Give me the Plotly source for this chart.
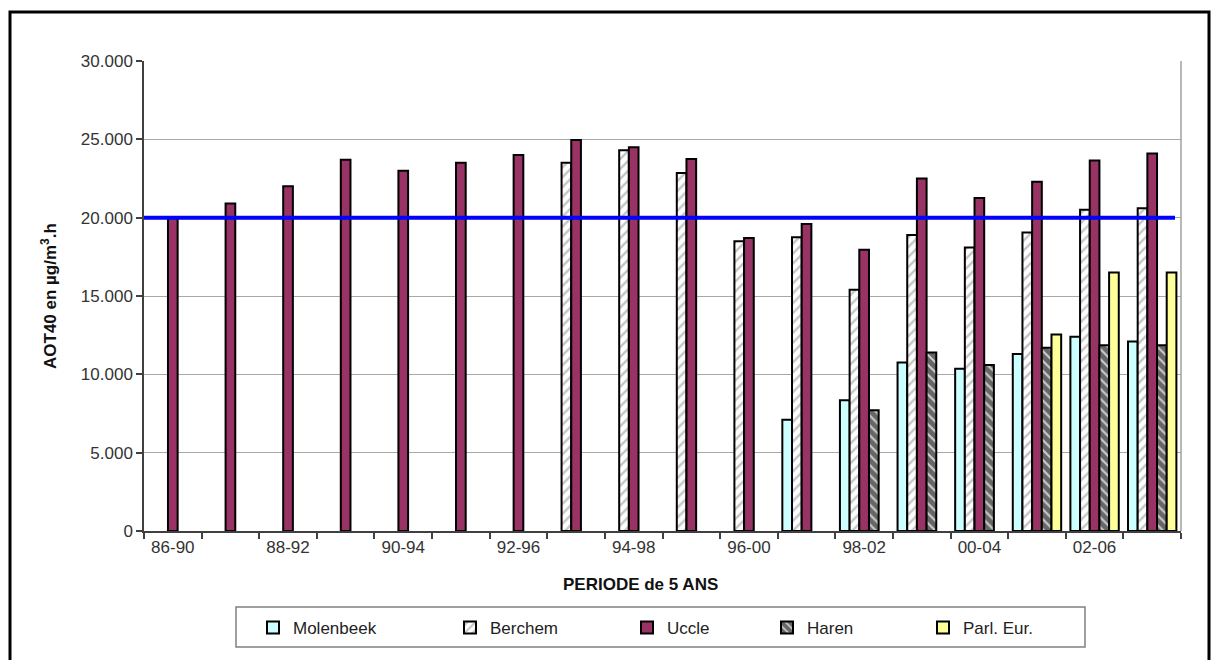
import plotly.graph_objects as go

# Five-year periods on the category axis
PERIODS = ["86-90", "87-91", "88-92", "89-93", "90-94", "91-95", "92-96", "93-97", "94-98",
           "95-99", "96-00", "97-01", "98-02", "99-03", "00-04", "01-05", "02-06", "03-07"]

# AOT40 values per station (µg/m³.h)
MOLENBEEK = [None, None, None, None, None, None, None, None, None, None, None,
             7100, 8350, 10750, 10350, 11300, 12400, 12100]
BERCHEM = [None, None, None, None, None, None, None,
           23500, 24300, 22850, 18500, 18750, 15400, 18900, 18100, 19050, 20500, 20600]
UCCLE = [20050, 20900, 22000, 23700, 23000, 23500, 24000, 24950, 24500, 23750,
         18700, 19600, 17950, 22500, 21250, 22300, 23650, 24100]
HAREN = [None, None, None, None, None, None, None, None, None, None, None, None,
         7700, 11400, 10600, 11700, 11850, 11850]
PARL_EUR = [None, None, None, None, None, None, None, None, None, None, None, None,
            None, None, None, 12550, 16500, 16500]

THRESHOLD = 20000
Y_TICKS = [0, 5000, 10000, 15000, 20000, 25000, 30000]

# Figure geometry (pixels)
W, H = 1211, 660
L, R, T, B = 144, 30, 61, 129
PW, PH = W - L - R, H - T - B


def px_x(x):
    return (x - L) / PW


def px_y(y):
    return (H - B - y) / PH


positions = list(range(len(PERIODS)))
outline = dict(color="black", width=2)
font_main = "Liberation Sans, Arial, sans-serif"

# Each station gets its own legend entry placed along the legend box
legend_ids = ["legend", "legend2", "legend3", "legend4", "legend5"]
legend_text_left = [293, 490, 667, 807, 963]

fig = go.Figure()
fig.add_bar(name="Molenbeek", x=positions, y=MOLENBEEK, legend=legend_ids[0],
            marker=dict(color="#CCFFFF", line=outline))
fig.add_bar(name="Berchem", x=positions, y=BERCHEM, legend=legend_ids[1],
            marker=dict(color="white", line=outline,
                        pattern=dict(shape="/", fgcolor="#8C8C8C", bgcolor="white",
                                     size=7, solidity=0.35)))
fig.add_bar(name="Uccle", x=positions, y=UCCLE, legend=legend_ids[2],
            marker=dict(color="#993366", line=outline))
fig.add_bar(name="Haren", x=positions, y=HAREN, legend=legend_ids[3],
            marker=dict(color="#C0C0C0", line=outline,
                        pattern=dict(shape="\\", fgcolor="black", bgcolor="#CCCCCC",
                                     size=7, solidity=0.7)))
fig.add_bar(name="Parl. Eur.", x=positions, y=PARL_EUR, legend=legend_ids[4],
            marker=dict(color="#FFFF99", line=outline))

legend_layout = {}
for lid, tx in zip(legend_ids, legend_text_left):
    legend_layout[lid] = dict(orientation="h", x=px_x(tx - 40), xanchor="left",
                              y=px_y(628), yanchor="middle",
                              bgcolor="rgba(0,0,0,0)", borderwidth=0,
                              font=dict(size=17, color="#222222"))

fig.update_layout(
    width=W, height=H,
    margin=dict(l=L, r=R, t=T, b=B, pad=0),
    paper_bgcolor="white", plot_bgcolor="white",
    barmode="group", bargap=0.16, bargroupgap=0,
    separators=",.",
    font=dict(family=font_main, size=17, color="#333333"),
    showlegend=True,
    xaxis=dict(range=[-0.5, len(PERIODS) - 0.5],
               tickmode="array", tickvals=positions[::2], ticktext=PERIODS[::2],
               ticks="", showgrid=False, zeroline=False,
               showline=True, linecolor="#404040", linewidth=1.5,
               tickfont=dict(size=17, color="#333333"),
               minor=dict(tickmode="linear", tick0=-0.5, dtick=1, ticks="outside",
                          ticklen=6, tickcolor="#404040", tickwidth=1.5, showgrid=False)),
    yaxis=dict(range=[0, 30000], tickmode="array", tickvals=Y_TICKS,
               tickformat=",.0f", ticks="outside", ticklen=6,
               tickcolor="#404040", tickwidth=1.5,
               showline=True, linecolor="#404040", linewidth=1.5,
               showgrid=True, gridcolor="#A8A8A8", gridwidth=1, zeroline=False,
               tickfont=dict(size=17, color="#333333")),
    **legend_layout,
)

# Axis titles
fig.add_annotation(text="<b>PERIODE de 5 ANS</b>", xref="paper", yref="paper",
                   x=px_x(640), y=px_y(584), xanchor="center", yanchor="middle",
                   showarrow=False, font=dict(size=17, color="#111111"))
fig.add_annotation(text="<b>AOT40 en µg/m<sup>3</sup>.h</b>", xref="paper", yref="paper",
                   x=px_x(49), y=0.5, xanchor="center", yanchor="middle",
                   textangle=-90, showarrow=False,
                   font=dict(size=17, color="#111111"))

# Plot-area border on the right side
fig.add_shape(type="line", xref="paper", yref="paper", x0=1, x1=1, y0=0, y1=1,
              line=dict(color="#A0A0A0", width=1.5))

# Threshold line
fig.add_shape(type="line", xref="paper", yref="y", x0=0, x1=px_x(1175),
              y0=THRESHOLD, y1=THRESHOLD, line=dict(color="#0000FF", width=4))

# Legend box
fig.add_shape(type="rect", xref="paper", yref="paper",
              x0=px_x(236), x1=px_x(1085), y0=px_y(607), y1=px_y(647),
              line=dict(color="#808080", width=1.5), fillcolor="white", layer="above")

# Outer frame around the chart
fig.add_shape(type="rect", xref="paper", yref="paper",
              x0=px_x(10), x1=px_x(1209), y0=px_y(12), y1=px_y(700),
              line=dict(color="black", width=3), layer="above")

fig.write_html("out.html")
